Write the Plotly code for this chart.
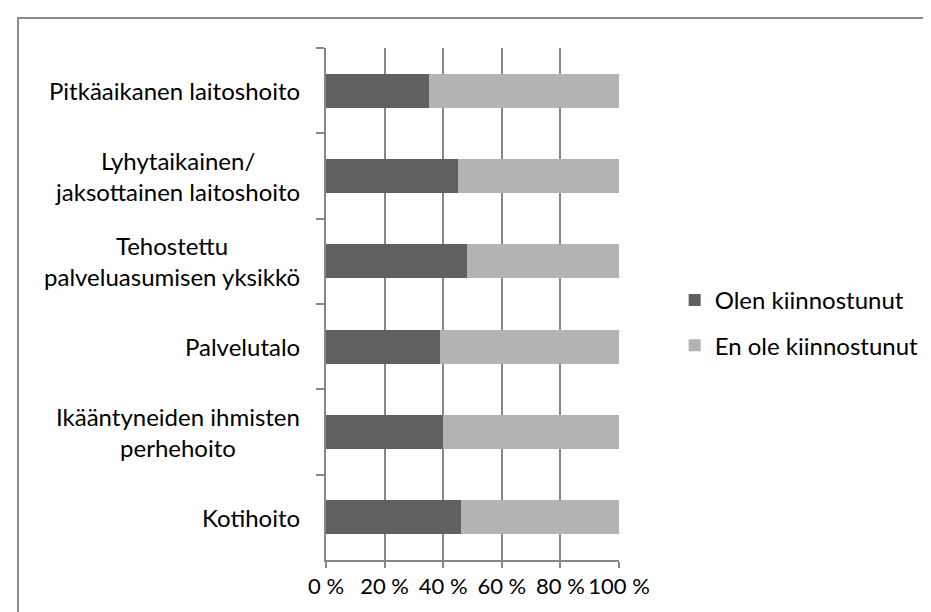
import plotly.graph_objects as go

# categories listed top to bottom as they appear in the chart
categories = [
    "Pitkäaikanen laitoshoito",
    "Lyhytaikainen/<br>jaksottainen laitoshoito",
    "Tehostettu<br>palveluasumisen yksikkö",
    "Palvelutalo",
    "Ikääntyneiden ihmisten<br>perhehoito",
    "Kotihoito",
]
olen_kiinnostunut = [35, 45, 48, 39, 40, 46]
en_ole_kiinnostunut = [65, 55, 52, 61, 60, 54]
x_ticks = [0, 20, 40, 60, 80, 100]
x_tick_labels = ["0 %", "20 %", "40 %", "60 %", "80 %", "100 %"]

FONT = "Lato, Liberation Sans, sans-serif"
FS = 24
GRID = "#878787"

fig = go.Figure()
fig.add_trace(go.Bar(
    y=categories, x=olen_kiinnostunut, orientation="h",
    name="Olen kiinnostunut", marker_color="#606060",
    marker_line_width=0, legendgroup="a",
))
fig.add_trace(go.Bar(
    y=categories, x=en_ole_kiinnostunut, orientation="h",
    name="En ole kiinnostunut", marker_color="#b3b3b3",
    marker_line_width=0, legendgroup="b",
))

# category labels as annotations so multi-line text is centre aligned
for cat in categories:
    fig.add_annotation(
        x=0, xref="paper", y=cat, yref="y", text=cat,
        xanchor="right", xshift=-24, align="center", showarrow=False,
        font=dict(family=FONT, size=FS, color="#000000"),
    )

# outer chart border (only top and left visible in the frame)
fig.add_shape(
    type="rect", xref="paper", yref="paper",
    x0=-1.0512, x1=3, y0=-0.3, y1=1.0586,
    line=dict(color="#8a8a8a", width=2), layer="below",
)

fig.update_layout(
    barmode="stack",
    bargap=0.6,
    width=931, height=612,
    margin=dict(l=318, r=320, t=40, b=60),
    paper_bgcolor="white", plot_bgcolor="white",
    font=dict(family=FONT, size=FS, color="#000000"),
    showlegend=True,
    legend=dict(
        x=1.19, y=0.463, xanchor="left", yanchor="middle",
        traceorder="grouped", tracegroupgap=11,
        font=dict(family=FONT, size=FS, color="#000000"),
    ),
)
fig.update_xaxes(
    range=[0, 100], tickvals=x_ticks, ticktext=x_tick_labels,
    tickangle=0, tickfont=dict(size=22), automargin=False,
    showgrid=True, gridcolor=GRID, gridwidth=2,
    showline=True, linecolor=GRID, linewidth=2,
    ticks="outside", ticklen=6, tickcolor=GRID, tickwidth=2,
    zeroline=False, fixedrange=True,
)
fig.update_yaxes(
    autorange="reversed", showticklabels=False, showgrid=False,
    showline=True, linecolor=GRID, linewidth=2, automargin=False,
    ticks="outside", ticklen=8, tickcolor=GRID, tickwidth=2,
    tickson="boundaries", fixedrange=True,
)

fig.write_html("out.html")
